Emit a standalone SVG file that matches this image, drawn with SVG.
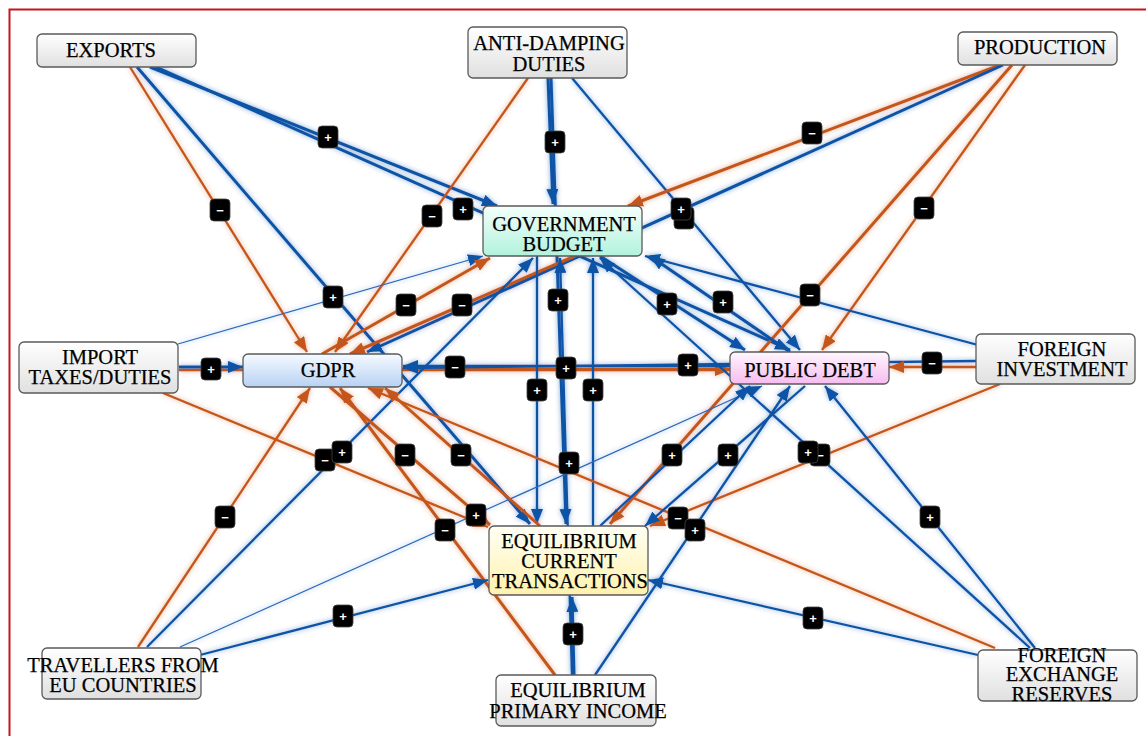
<svg xmlns="http://www.w3.org/2000/svg" width="1146" height="736" viewBox="0 0 1146 736">
<defs>
<style>
.n rect{stroke:#5a5a5a;stroke-width:1.3}
.n text{font-family:"Liberation Serif","Times New Roman",serif;font-size:20.5px;fill:#000;stroke:#000;stroke-width:0.25;text-anchor:middle}
.b{stroke:#0f52a6;stroke-width:3;marker-end:url(#ab)}
.bm{stroke:#0f52a6;stroke-width:2.3;marker-end:url(#ab)}
.bt{stroke:#2a67b8;stroke-width:1.2;marker-end:url(#ab)}
.o{stroke:#c4571b;stroke-width:3;marker-end:url(#ao)}
.om{stroke:#c4571b;stroke-width:2.3;marker-end:url(#ao)}
.bd rect{fill:#000;stroke:#444;stroke-width:0.8}
.bd text{font-family:"Liberation Sans",Arial,sans-serif;font-size:13px;font-weight:bold;fill:#fff;text-anchor:middle}
</style>
<marker id="ab" markerUnits="userSpaceOnUse" markerWidth="15" markerHeight="12" refX="15" refY="6" orient="auto"><path d="M0,0 L15,6 L0,12 z" fill="#0f52a6"/></marker>
<marker id="ao" markerUnits="userSpaceOnUse" markerWidth="15" markerHeight="12" refX="15" refY="6" orient="auto"><path d="M0,0 L15,6 L0,12 z" fill="#c4571b"/></marker>
<filter id="glow" x="-5%" y="-5%" width="110%" height="110%">
<feGaussianBlur in="SourceGraphic" stdDeviation="2.6" result="bl"/>
<feComponentTransfer in="bl" result="bl2"><feFuncA type="linear" slope="0.5"/></feComponentTransfer>
<feMerge><feMergeNode in="bl2"/><feMergeNode in="SourceGraphic"/></feMerge>
</filter>
<linearGradient id="gg" x1="0" y1="0" x2="0" y2="1"><stop offset="0" stop-color="#ffffff"/><stop offset="1" stop-color="#e0e0e0"/></linearGradient>
<linearGradient id="gm" x1="0" y1="0" x2="0" y2="1"><stop offset="0" stop-color="#f4fffb"/><stop offset="1" stop-color="#b2f2dd"/></linearGradient>
<linearGradient id="gb" x1="0" y1="0" x2="0" y2="1"><stop offset="0" stop-color="#f6faff"/><stop offset="1" stop-color="#b8d2f4"/></linearGradient>
<linearGradient id="gp" x1="0" y1="0" x2="0" y2="1"><stop offset="0" stop-color="#fff6fe"/><stop offset="1" stop-color="#f6bcef"/></linearGradient>
<linearGradient id="gy" x1="0" y1="0" x2="0" y2="1"><stop offset="0" stop-color="#fffff4"/><stop offset="1" stop-color="#fff2ae"/></linearGradient>
</defs>
<rect x="0" y="0" width="1146" height="736" fill="#fff"/>
<rect x="9.5" y="9.5" width="1200" height="800" fill="none" stroke="#c4161c" stroke-width="2"/>

<g id="connectors">
<g filter="url(#glow)">
<line class="b" x1="150" y1="67" x2="497" y2="206"/>
<line class="om" x1="130" y1="67" x2="307" y2="352"/>
<line class="b" x1="156" y1="67" x2="790" y2="350"/>
<line class="b" x1="137" y1="67" x2="530" y2="524"/>
<line class="b" x1="548" y1="78" x2="553" y2="204"/>
<line class="b" x1="551" y1="78" x2="566" y2="524"/>
<line class="om" x1="528" y1="78" x2="335" y2="352"/>
<line class="bm" x1="572" y1="78" x2="800" y2="350"/>
<line class="o" x1="1000" y1="65" x2="628" y2="206"/>
<line class="b" x1="1003" y1="65" x2="367" y2="352"/>
<line class="om" x1="1025" y1="65" x2="822" y2="350"/>
<line class="o" x1="1012" y1="65" x2="610" y2="524"/>
<line class="om" x1="179" y1="370" x2="730" y2="370"/>
<line class="b" x1="179" y1="367" x2="243" y2="367"/>
<line class="bt" x1="178" y1="344" x2="483" y2="256"/>
<line class="om" x1="163" y1="393" x2="488" y2="527"/>
<line class="o" x1="322" y1="354" x2="490" y2="258"/>
<line class="o" x1="575" y1="256" x2="350" y2="354"/>
<line class="om" x1="402" y1="369" x2="730" y2="369"/>
<line class="bm" x1="730" y1="366" x2="403" y2="366"/>
<line class="bm" x1="976" y1="361" x2="403" y2="368"/>
<line class="om" x1="976" y1="367" x2="889" y2="367"/>
<line class="bm" x1="978" y1="345" x2="645" y2="256"/>
<line class="om" x1="1000" y1="384" x2="650" y2="526"/>
<line class="bm" x1="537" y1="256" x2="537" y2="524"/>
<line class="bm" x1="593" y1="526" x2="593" y2="258"/>
<line class="bm" x1="572" y1="675" x2="560" y2="258"/>
<line class="b" x1="574" y1="675" x2="572" y2="597"/>
<line class="o" x1="555" y1="675" x2="340" y2="388"/>
<line class="bm" x1="595" y1="675" x2="790" y2="386"/>
<line class="om" x1="138" y1="647" x2="310" y2="388"/>
<line class="bm" x1="147" y1="647" x2="533" y2="258"/>
<line class="bt" x1="180" y1="647" x2="762" y2="386"/>
<line class="bm" x1="200" y1="655" x2="488" y2="580"/>
<line class="bm" x1="978" y1="655" x2="648" y2="580"/>
<line class="om" x1="995" y1="648" x2="368" y2="388"/>
<line class="bm" x1="1030" y1="648" x2="600" y2="258"/>
<line class="bm" x1="1035" y1="648" x2="825" y2="386"/>
<line class="o" x1="330" y1="387" x2="490" y2="525"/>
<line class="o" x1="540" y1="526" x2="385" y2="388"/>
<line class="bm" x1="600" y1="526" x2="750" y2="386"/>
<line class="bm" x1="805" y1="386" x2="645" y2="526"/>
<line class="b" x1="600" y1="256" x2="745" y2="350"/>
<line class="b" x1="790" y1="352" x2="650" y2="256"/>
</g>
<g class="bd">
<g transform="translate(328,137)"><rect x="-10" y="-11" width="20" height="22" rx="4"/><text y="4.5">+</text></g>
<g transform="translate(220,210)"><rect x="-10" y="-11" width="20" height="22" rx="4"/><text y="4.5">−</text></g>
<g transform="translate(463,209)"><rect x="-10" y="-11" width="20" height="22" rx="4"/><text y="4.5">+</text></g>
<g transform="translate(333,297)"><rect x="-10" y="-11" width="20" height="22" rx="4"/><text y="4.5">+</text></g>
<g transform="translate(555,142)"><rect x="-10" y="-11" width="20" height="22" rx="4"/><text y="4.5">+</text></g>
<g transform="translate(558,300)"><rect x="-10" y="-11" width="20" height="22" rx="4"/><text y="4.5">+</text></g>
<g transform="translate(432,216)"><rect x="-10" y="-11" width="20" height="22" rx="4"/><text y="4.5">−</text></g>
<g transform="translate(684,218)"><rect x="-10" y="-11" width="20" height="22" rx="4"/></g>
<g transform="translate(681,209)"><rect x="-10" y="-11" width="20" height="22" rx="4"/><text y="4.5">+</text></g>
<g transform="translate(812,133)"><rect x="-10" y="-11" width="20" height="22" rx="4"/><text y="4.5">−</text></g>
<g transform="translate(924,208)"><rect x="-10" y="-11" width="20" height="22" rx="4"/><text y="4.5">−</text></g>
<g transform="translate(810,295)"><rect x="-10" y="-11" width="20" height="22" rx="4"/><text y="4.5">−</text></g>
<g transform="translate(211,369)"><rect x="-10" y="-11" width="20" height="22" rx="4"/><text y="4.5">+</text></g>
<g transform="translate(455,367)"><rect x="-10" y="-11" width="20" height="22" rx="4"/><text y="4.5">−</text></g>
<g transform="translate(406,305)"><rect x="-10" y="-11" width="20" height="22" rx="4"/><text y="4.5">−</text></g>
<g transform="translate(462,305)"><rect x="-10" y="-11" width="20" height="22" rx="4"/><text y="4.5">−</text></g>
<g transform="translate(566,368)"><rect x="-10" y="-11" width="20" height="22" rx="4"/><text y="4.5">+</text></g>
<g transform="translate(688,365)"><rect x="-10" y="-11" width="20" height="22" rx="4"/><text y="4.5">+</text></g>
<g transform="translate(932,363)"><rect x="-10" y="-11" width="20" height="22" rx="4"/><text y="4.5">−</text></g>
<g transform="translate(667,304)"><rect x="-10" y="-11" width="20" height="22" rx="4"/><text y="4.5">+</text></g>
<g transform="translate(723,302)"><rect x="-10" y="-11" width="20" height="22" rx="4"/><text y="4.5">+</text></g>
<g transform="translate(537,390)"><rect x="-10" y="-11" width="20" height="22" rx="4"/><text y="4.5">+</text></g>
<g transform="translate(593,390)"><rect x="-10" y="-11" width="20" height="22" rx="4"/><text y="4.5">+</text></g>
<g transform="translate(569,463)"><rect x="-10" y="-11" width="20" height="22" rx="4"/><text y="4.5">+</text></g>
<g transform="translate(573,634)"><rect x="-10" y="-11" width="20" height="22" rx="4"/><text y="4.5">+</text></g>
<g transform="translate(325,460)"><rect x="-10" y="-11" width="20" height="22" rx="4"/><text y="4.5">−</text></g>
<g transform="translate(342,452)"><rect x="-10" y="-11" width="20" height="22" rx="4"/><text y="4.5">+</text></g>
<g transform="translate(405,455)"><rect x="-10" y="-11" width="20" height="22" rx="4"/><text y="4.5">−</text></g>
<g transform="translate(461,455)"><rect x="-10" y="-11" width="20" height="22" rx="4"/><text y="4.5">−</text></g>
<g transform="translate(672,455)"><rect x="-10" y="-11" width="20" height="22" rx="4"/><text y="4.5">+</text></g>
<g transform="translate(728,455)"><rect x="-10" y="-11" width="20" height="22" rx="4"/><text y="4.5">+</text></g>
<g transform="translate(820,455)"><rect x="-10" y="-11" width="20" height="22" rx="4"/><text y="4.5">−</text></g>
<g transform="translate(808,452)"><rect x="-10" y="-11" width="20" height="22" rx="4"/><text y="4.5">+</text></g>
<g transform="translate(225,517)"><rect x="-10" y="-11" width="20" height="22" rx="4"/><text y="4.5">−</text></g>
<g transform="translate(445,530)"><rect x="-10" y="-11" width="20" height="22" rx="4"/><text y="4.5">−</text></g>
<g transform="translate(476,515)"><rect x="-10" y="-11" width="20" height="22" rx="4"/><text y="4.5">+</text></g>
<g transform="translate(678,518)"><rect x="-10" y="-11" width="20" height="22" rx="4"/><text y="4.5">−</text></g>
<g transform="translate(695,530)"><rect x="-10" y="-11" width="20" height="22" rx="4"/><text y="4.5">+</text></g>
<g transform="translate(930,517)"><rect x="-10" y="-11" width="20" height="22" rx="4"/><text y="4.5">+</text></g>
<g transform="translate(343,616)"><rect x="-10" y="-11" width="20" height="22" rx="4"/><text y="4.5">+</text></g>
<g transform="translate(813,618)"><rect x="-10" y="-11" width="20" height="22" rx="4"/><text y="4.5">+</text></g>
</g>
</g>

<g id="exports" class="n"><rect x="37" y="34" width="159" height="33" rx="5" fill="url(#gg)"/><text x="111" y="57">EXPORTS</text></g>
<g id="anti-damping" class="n"><rect x="468" y="27" width="159" height="51" rx="5" fill="url(#gg)"/><text x="549" y="50">ANTI-DAMPING</text><text x="549" y="71">DUTIES</text></g>
<g id="production" class="n"><rect x="958" y="32" width="159" height="33" rx="5" fill="url(#gg)"/><text x="1040" y="54">PRODUCTION</text></g>
<g id="government-budget" class="n"><rect x="483" y="206" width="159" height="50" rx="5" fill="url(#gm)"/><text x="564" y="231">GOVERNMENT</text><text x="564" y="251">BUDGET</text></g>
<g id="import-taxes" class="n"><rect x="19" y="342" width="159" height="51" rx="5" fill="url(#gg)"/><text x="100" y="364">IMPORT</text><text x="100" y="384">TAXES/DUTIES</text></g>
<g id="gdpr" class="n"><rect x="243" y="354" width="159" height="33" rx="5" fill="url(#gb)"/><text x="328" y="377">GDPR</text></g>
<g id="public-debt" class="n"><rect x="730" y="352" width="159" height="32" rx="5" fill="url(#gp)"/><text x="810" y="377">PUBLIC DEBT</text></g>
<g id="foreign-investment" class="n"><rect x="976" y="334" width="159" height="50" rx="5" fill="url(#gg)"/><text x="1062" y="356">FOREIGN</text><text x="1062" y="376">INVESTMENT</text></g>
<g id="equilibrium-current" class="n"><rect x="489" y="526" width="159" height="69" rx="5" fill="url(#gy)"/><text x="569" y="548">EQUILIBRIUM</text><text x="569" y="568">CURRENT</text><text x="570" y="588">TRANSACTIONS</text></g>
<g id="travellers" class="n"><rect x="42" y="648" width="159" height="51" rx="5" fill="url(#gg)"/><text x="123" y="672">TRAVELLERS FROM</text><text x="123" y="692">EU COUNTRIES</text></g>
<g id="equilibrium-primary" class="n"><rect x="496" y="675" width="160" height="51" rx="5" fill="url(#gg)"/><text x="578" y="697">EQUILIBRIUM</text><text x="578" y="718">PRIMARY INCOME</text></g>
<g id="foreign-exchange" class="n"><rect x="978" y="650" width="159" height="51" rx="5" fill="url(#gg)"/><text x="1062" y="662">FOREIGN</text><text x="1062" y="681">EXCHANGE</text><text x="1062" y="701">RESERVES</text></g>
</svg>
